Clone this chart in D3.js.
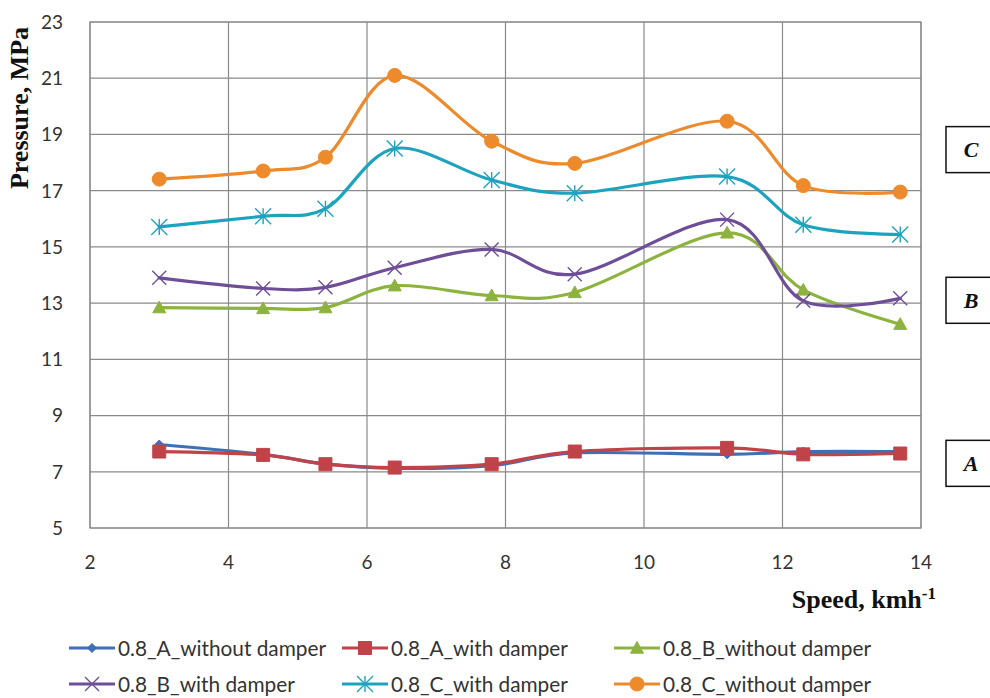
<!DOCTYPE html>
<html><head><meta charset="utf-8">
<script src="https://cdn.jsdelivr.net/npm/d3@7"></script>
<style>html,body{margin:0;padding:0;background:#fff;overflow:hidden;}svg{display:block;}</style>
</head><body>
<script>
const speeds = [3.0, 4.5, 5.4, 6.4, 7.8, 9.0, 11.2, 12.3, 13.7];
const seriesNames = ["0.8_A_without damper","0.8_A_with damper","0.8_B_without damper","0.8_B_with damper","0.8_C_with damper","0.8_C_without damper"];
const aWithout = [7.97, 7.62, 7.28, 7.12, 7.22, 7.67, 7.62, 7.72, 7.72];
const aWith    = [7.72, 7.60, 7.27, 7.15, 7.27, 7.72, 7.85, 7.62, 7.65];
const bWithout = [12.84, 12.81, 12.84, 13.62, 13.27, 13.38, 15.50, 13.47, 12.25];
const bWith    = [13.90, 13.52, 13.56, 14.26, 14.91, 14.03, 15.97, 13.08, 13.17];
const cWith    = [15.71, 16.09, 16.36, 18.50, 17.38, 16.91, 17.50, 15.79, 15.44];
const cWithout = [17.41, 17.70, 18.19, 21.10, 18.76, 17.97, 19.47, 17.18, 16.95];
const xTicks = [2, 4, 6, 8, 10, 12, 14];
const yTicks = [5, 7, 9, 11, 13, 15, 17, 19, 21, 23];
const groupLabels = ["C", "B", "A"];
const groupLevels = [18.46, 13.1, 7.3];

(function () {
const W = 990, H = 698;
const svg = d3.select("body").append("svg").attr("width", W).attr("height", H);
const pL = 90, pR = 921, pT = 22, pB = 528;
const x = d3.scaleLinear().domain([2, 14]).range([pL, pR]);
const y = d3.scaleLinear().domain([5, 23]).range([pB, pT]);

const colors = ["#3f6fb5", "#c0434a", "#8db33f", "#6f4e98", "#1ea3bf", "#ed8a2c"];
const markers = ["diamond", "square", "triangle", "x", "asterisk", "circle"];
const data = [aWithout, aWith, bWithout, bWith, cWith, cWithout];

const g = svg.append("g");
g.selectAll("line.h").data(yTicks).enter().append("line")
  .attr("x1", pL).attr("x2", pR).attr("y1", d => y(d)).attr("y2", d => y(d))
  .attr("stroke", "#8a8a8a").attr("stroke-width", 1.2);
g.selectAll("line.v").data(xTicks).enter().append("line")
  .attr("y1", pT).attr("y2", pB).attr("x1", d => x(d)).attr("x2", d => x(d))
  .attr("stroke", "#8a8a8a").attr("stroke-width", 1.2);

const font = "Lato, 'Open Sans', sans-serif";
svg.append("g").selectAll("text").data(yTicks).enter().append("text")
  .attr("x", 63).attr("y", d => y(d)).attr("dy", "0.36em").attr("text-anchor", "end")
  .attr("font-family", font).attr("font-size", 19).attr("fill", "#333").text(d => d);
svg.append("g").selectAll("text").data(xTicks).enter().append("text")
  .attr("x", d => x(d)).attr("y", 562).attr("dy", "0.36em").attr("text-anchor", "middle")
  .attr("font-family", font).attr("font-size", 19).attr("fill", "#333").text(d => d);

svg.append("text").attr("transform", "translate(28,108) rotate(-90)").attr("text-anchor", "middle")
  .attr("font-family", "'Liberation Serif', serif").attr("font-weight", "bold").attr("font-size", 26)
  .attr("fill", "#111").text("Pressure, MPa");
const xt = svg.append("text").attr("x", 936).attr("y", 608).attr("text-anchor", "end")
  .attr("font-family", "'Liberation Serif', serif").attr("font-weight", "bold").attr("font-size", 26)
  .attr("fill", "#111");
xt.append("tspan").text("Speed, kmh");
xt.append("tspan").attr("dy", -9).attr("font-size", 17).text("-1");

function markerPath(type, s) {
  const h = s / 2;
  switch (type) {
    case "diamond": return `M0,${-h}L${h},0L0,${h}L${-h},0Z`;
    case "square": return `M${-h},${-h}H${h}V${h}H${-h}Z`;
    case "triangle": return `M0,${-h}L${h},${h * 0.8}L${-h},${h * 0.8}Z`;
    case "x": return `M${-h},${-h}L${h},${h}M${-h},${h}L${h},${-h}`;
    case "asterisk": return `M${-h},${-h}L${h},${h}M${-h},${h}L${h},${-h}M0,${-h}L0,${h}`;
    case "circle": return d3.arc()({innerRadius: 0, outerRadius: h, startAngle: 0, endAngle: 2 * Math.PI});
  }
}
const mSize = {diamond: 9, square: 13, triangle: 13, x: 14, asterisk: 16, circle: 14};
function drawMarker(sel, type, color) {
  const stroke = (type === "x" || type === "asterisk");
  sel.append("path").attr("d", markerPath(type, mSize[type]))
    .attr("fill", stroke ? "none" : color)
    .attr("stroke", color).attr("stroke-width", stroke ? 1.4 : 1);
}

const line = d3.line().x((d, i) => x(speeds[i])).y(d => y(d)).curve(d3.curveCatmullRom.alpha(0));
data.forEach((vals, k) => {
  const sg = svg.append("g");
  sg.append("path").attr("d", line(vals)).attr("fill", "none").attr("stroke", colors[k])
    .attr("stroke-width", 3.2).attr("stroke-linejoin", "round").attr("stroke-linecap", "round");
  vals.forEach((v, i) => {
    const mg = sg.append("g").attr("transform", `translate(${x(speeds[i])},${y(v)})`);
    drawMarker(mg, markers[k], colors[k]);
  });
});

svg.append("rect").attr("x", pL).attr("y", pT).attr("width", pR - pL).attr("height", pB - pT)
  .attr("fill", "none").attr("stroke", "#8a8a8a").attr("stroke-width", 1.2);

const boxes = svg.append("g");
groupLabels.forEach((lab, i) => {
  const cy = y(groupLevels[i]);
  boxes.append("rect").attr("x", 946).attr("y", cy - 23).attr("width", 60).attr("height", 46)
    .attr("fill", "#fff").attr("stroke", "#111").attr("stroke-width", 1.5);
  boxes.append("text").attr("x", 971).attr("y", cy).attr("dy", "0.35em").attr("text-anchor", "middle")
    .attr("font-family", "'Liberation Serif', serif").attr("font-weight", "bold").attr("font-style", "italic")
    .attr("font-size", 22).attr("fill", "#111").text(lab);
});

const legX = [69, 342, 614], legY = [648, 684];
seriesNames.forEach((name, k) => {
  const col = k % 3, row = Math.floor(k / 3);
  const lg = svg.append("g").attr("transform", `translate(${legX[col]},${legY[row]})`);
  lg.append("line").attr("x1", 0).attr("x2", 46).attr("y1", 0).attr("y2", 0)
    .attr("stroke", colors[k]).attr("stroke-width", 3.2);
  const mg = lg.append("g").attr("transform", "translate(23,0)");
  drawMarker(mg, markers[k], colors[k]);
  lg.append("text").attr("x", 49).attr("y", 0).attr("dy", "0.36em")
    .attr("font-family", font).attr("font-size", 21).attr("fill", "#333")
    .attr("textLength", name.length * 10.4).attr("lengthAdjust", "spacingAndGlyphs").text(name);
});
})();
</script>
</body></html>
